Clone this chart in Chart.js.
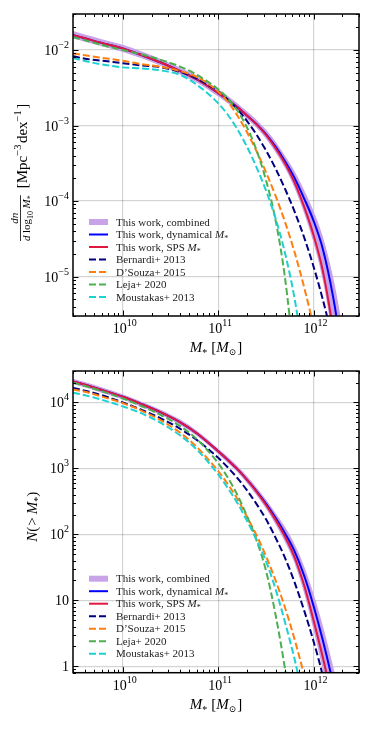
<!DOCTYPE html>
<html>
<head>
<meta charset="utf-8">
<script src="https://cdn.jsdelivr.net/npm/chart.js"></script>
<style>
  html, body { margin: 0; padding: 0; background: #fff; }
  #wrap { position: relative; width: 366px; height: 731px; }
  canvas { position: absolute; left: 0; }
</style>
</head>
<body>
<div id="wrap">
  <canvas id="massFunction" width="366" height="362" style="top:0px"></canvas>
  <canvas id="cumulative" width="366" height="369" style="top:362px"></canvas>
</div>
<script>
// stellar mass grid (M_sun)
const masses = [3e9, 4e9, 6e9, 1e10, 1.6e10, 2.5e10, 4e10, 6e10, 1e11, 1.25e11, 1.6e11, 2e11,
  2.5e11, 3.2e11, 4e11, 5e11, 6.3e11, 8e11, 1e12, 1.25e12, 1.6e12, 2e12, 2.5e12];

const seriesLabels = ['This work, combined', 'This work, dynamical M*', 'This work, SPS M*',
  'Bernardi+ 2013', 'D\u2019Souza+ 2015', 'Leja+ 2020', 'Moustakas+ 2013'];

// top panel: dn / dlog10 M*  [Mpc^-3 dex^-1]
const phiBandHi = [1.78e-2, 1.6e-2, 1.39e-2, 1.17e-2, 9.5e-3, 7.6e-3, 5.85e-3, 4.55e-3, 3.0e-3, 2.48e-3, 1.96e-3,
  1.54e-3, 1.2e-3, 8.7e-4, 6.1e-4, 4.0e-4, 2.5e-4, 1.38e-4, 7.4e-5, 3.4e-5, 1.0e-5, 2.2e-6, 3e-7];
const phiBandLo = [1.42e-2, 1.29e-2, 1.12e-2, 9.4e-3, 7.7e-3, 6.2e-3, 4.75e-3, 3.68e-3, 2.42e-3, 1.99e-3, 1.56e-3,
  1.22e-3, 9.4e-4, 6.6e-4, 4.4e-4, 2.75e-4, 1.5e-4, 6.8e-5, 2.8e-5, 9e-6, 1.4e-6, 1.6e-7, 1e-8];
const phiDynamical = [1.58e-2, 1.43e-2, 1.24e-2, 1.05e-2, 8.5e-3, 6.84e-3, 5.25e-3, 4.07e-3, 2.69e-3, 2.21e-3, 1.74e-3,
  1.36e-3, 1.06e-3, 7.6e-4, 5.25e-4, 3.39e-4, 2.04e-4, 1.07e-4, 5.5e-5, 2.34e-5, 5.5e-6, 9.1e-7, 1e-7];
const phiSps = [1.58e-2, 1.43e-2, 1.24e-2, 1.05e-2, 8.5e-3, 6.84e-3, 5.25e-3, 4.07e-3, 2.69e-3, 2.21e-3, 1.74e-3,
  1.36e-3, 1.05e-3, 7.4e-4, 5.0e-4, 3.16e-4, 1.78e-4, 8.3e-5, 3.55e-5, 1.2e-5, 2.0e-6, 2.5e-7];
const phiBernardi = [8.3e-3, 7.67e-3, 7.24e-3, 6.68e-3, 6.24e-3, 5.9e-3, 5.13e-3, 4.17e-3, 2.84e-3, 2.24e-3, 1.63e-3,
  1.15e-3, 7.7e-4, 4.59e-4, 2.69e-4, 1.47e-4, 7.36e-5, 3.26e-5, 1.36e-5, 4.99e-6, 1.39e-6, 3.6e-7];
const phiDSouza = [9.0e-3, 8.5e-3, 7.9e-3, 7.2e-3, 6.5e-3, 6.0e-3, 5.25e-3, 4.37e-3, 2.82e-3, 2.09e-3, 1.34e-3,
  8.2e-4, 4.69e-4, 2.35e-4, 1.17e-4, 5.37e-5, 2.14e-5, 7.1e-6, 2.19e-6, 5.75e-7];
const phiLeja = [1.48e-2, 1.35e-2, 1.17e-2, 1.0e-2, 8.7e-3, 7.4e-3, 6.03e-3, 4.68e-3, 3.02e-3, 2.31e-3, 1.56e-3,
  9.5e-4, 4.88e-4, 1.82e-4, 5.57e-5, 1.0e-5, 7.9e-7];
const phiMoustakas = [7.85e-3, 7.16e-3, 6.46e-3, 5.89e-3, 5.69e-3, 5.37e-3, 4.68e-3, 3.45e-3, 1.97e-3, 1.41e-3, 8.8e-4,
  5.27e-4, 2.88e-4, 1.34e-4, 5.87e-5, 2.1e-5, 5.28e-6, 7.8e-7, 1e-7];

// bottom panel: N(> M*)
const nBandHi = [2.29e4, 2.04e4, 1.7e4, 1.33e4, 1.02e4, 7.76e3, 5.5e3, 3.72e3, 2.0e3, 1.51e3, 1.08e3,
  767, 525, 331, 209, 132, 72.4, 32.4, 12.6, 4.17, 1.02, 0.251];
const nBandLo = [1.91e4, 1.7e4, 1.41e4, 1.11e4, 8.5e3, 6.46e3, 4.57e3, 3.09e3, 1.66e3, 1.23e3, 871,
  603, 398, 240, 141, 77.6, 37.2, 12.6, 3.55, 0.89, 0.158, 0.05];
const nDynamical = [2.09e4, 1.86e4, 1.55e4, 1.22e4, 9.33e3, 7.08e3, 5.01e3, 3.39e3, 1.82e3, 1.36e3, 966,
  676, 462, 288, 178, 105, 56.2, 23.4, 8.3, 2.51, 0.562, 0.126];
const nSps = [2.09e4, 1.86e4, 1.55e4, 1.22e4, 9.33e3, 7.08e3, 5.01e3, 3.39e3, 1.82e3, 1.36e3, 966,
  676, 452, 275, 166, 93.3, 45.7, 16.6, 5.01, 1.38, 0.282];
const nBernardi = [1.66e4, 1.51e4, 1.29e4, 1.0e4, 7.67e3, 5.75e3, 3.98e3, 2.69e3, 1.45e3, 1.05e3, 708,
  468, 295, 166, 89.1, 44.7, 19.1, 6.92, 2.4, 0.708, 0.1];
const nDSouza = [1.58e4, 1.45e4, 1.23e4, 9.77e3, 7.41e3, 5.37e3, 3.47e3, 2.09e3, 912, 589, 339,
  186, 100, 45.7, 20, 7.94, 2.63, 0.708, 0.158];
const nLeja = [2.0e4, 1.78e4, 1.48e4, 1.15e4, 8.7e3, 6.46e3, 4.37e3, 2.75e3, 1.2e3, 741, 389,
  191, 85.1, 26.9, 6.03, 0.955, 0.1];
const nMoustakas = [1.41e4, 1.29e4, 1.1e4, 8.71e3, 6.76e3, 4.9e3, 3.16e3, 1.91e3, 813, 513, 295,
  162, 85.1, 38, 14.8, 4.79, 1.32, 0.282];

const colors = ['#c9a3e8', '#0000ff', '#e0173f', '#000080', '#ff7f0e', '#4caf50', '#1ed0d0'];
const SERIF = "'Liberation Serif', 'DejaVu Serif', serif";
const MINUS = '\u2212';

function font(size, italic) {
  return (italic ? 'italic ' : '') + size + 'px ' + SERIF;
}

// a run is [text, size, italic, dy, gapAfter]
function runsWidth(ctx, runs) {
  let w = 0;
  for (const r of runs) {
    ctx.font = font(r[1], r[2]);
    w += ctx.measureText(r[0]).width + (r[4] || 0);
  }
  return w;
}

function drawRuns(ctx, runs, x, y, align) {
  const w = runsWidth(ctx, runs);
  let cx = align === 'center' ? x - w / 2 : align === 'right' ? x - w : x;
  ctx.textAlign = 'left';
  ctx.textBaseline = 'alphabetic';
  for (const r of runs) {
    ctx.font = font(r[1], r[2]);
    ctx.fillText(r[0], cx, y + (r[3] || 0));
    cx += ctx.measureText(r[0]).width + (r[4] || 0);
  }
  return w;
}

function powRuns(e, plainSmall) {
  if (plainSmall && e === 0) return [['1', 14]];
  if (plainSmall && e === 1) return [['10', 14]];
  return [['10', 14], [(e < 0 ? MINUS + (-e) : String(e)), 10, false, -7]];
}

// label text with "M*" rendered as math
function labelRuns(text, size) {
  const i = text.indexOf('M*');
  if (i < 0) return [[text, size]];
  return [[text.slice(0, i), size], ['M', size, true], ['*', size * 0.72, false, 3]];
}

function logTicks(scale) {
  const out = [];
  const lo = Math.floor(Math.log10(scale.min)), hi = Math.ceil(Math.log10(scale.max));
  for (let e = lo; e <= hi; e++) {
    for (let k = 1; k < 10; k++) {
      const v = k * Math.pow(10, e);
      if (v >= scale.min * 0.999 && v <= scale.max * 1.001) out.push({ v, e, major: k === 1 });
    }
  }
  return out;
}

function isDecade(v) {
  const l = Math.log10(v);
  return Math.abs(l - Math.round(l)) < 1e-6;
}

const decor = {
  id: 'decor',
  afterDraw(chart, args, opts) {
    const ctx = chart.ctx, a = chart.chartArea;
    const xs = chart.scales.x, ys = chart.scales.y;
    ctx.save();
    ctx.strokeStyle = '#000';
    ctx.fillStyle = '#000';

    // inward ticks on all four sides
    ctx.lineWidth = 1;
    ctx.beginPath();
    for (const t of logTicks(xs)) {
      const px = Math.round(xs.getPixelForValue(t.v)) + 0.5;
      const len = t.major ? 5.5 : 3;
      ctx.moveTo(px, a.bottom); ctx.lineTo(px, a.bottom - len);
      ctx.moveTo(px, a.top); ctx.lineTo(px, a.top + len);
    }
    for (const t of logTicks(ys)) {
      const py = Math.round(ys.getPixelForValue(t.v)) + 0.5;
      const len = t.major ? 5.5 : 3;
      ctx.moveTo(a.left, py); ctx.lineTo(a.left + len, py);
      ctx.moveTo(a.right, py); ctx.lineTo(a.right - len, py);
    }
    ctx.stroke();

    ctx.lineWidth = 1.5;
    ctx.strokeRect(a.left, a.top, a.right - a.left, a.bottom - a.top);

    // tick labels
    for (const t of logTicks(xs)) {
      if (t.major) drawRuns(ctx, powRuns(t.e), xs.getPixelForValue(t.v) + 2, a.bottom + 17, 'center');
    }
    for (const t of logTicks(ys)) {
      if (t.major) drawRuns(ctx, powRuns(t.e, opts.plainSmall), a.left - 4, ys.getPixelForValue(t.v) + 5, 'right');
    }

    // x title
    drawRuns(ctx, [['M', 15, true], ['*', 10, false, 4, 4], ['[', 15], ['M', 15, true],
      ['\u2299', 9, false, 3, 1], [']', 15]], (a.left + a.right) / 2, a.bottom + 36, 'center');

    opts.yTitle(ctx, a);

    // legend
    let y = a.bottom - 94;
    seriesLabels.forEach((lab, i) => {
      const x0 = a.left + 16, x1 = a.left + 35;
      if (i === 0) {
        ctx.fillStyle = colors[0];
        ctx.fillRect(x0, y - 3, x1 - x0, 6);
      } else {
        ctx.strokeStyle = colors[i];
        ctx.lineWidth = 2;
        ctx.setLineDash(i >= 3 ? [7, 3] : []);
        ctx.beginPath(); ctx.moveTo(x0, y); ctx.lineTo(x1, y); ctx.stroke();
        ctx.setLineDash([]);
      }
      ctx.fillStyle = '#222';
      drawRuns(ctx, labelRuns(lab, 11), a.left + 43, y + 3.5, 'left');
      y += 12.5;
    });
    ctx.restore();
  }
};

function yTitleDensity(ctx, a) {
  ctx.save();
  ctx.translate(21, (a.top + a.bottom) / 2);
  ctx.rotate(-Math.PI / 2);
  const den = [['d', 11, true, 0, 2.5], ['log', 11], ['10', 8, false, 3, 2.5], ['M', 11, true], ['*', 8, false, 3]];
  const dw = runsWidth(ctx, den);
  const x0 = -76;
  drawRuns(ctx, [['dn', 11, true]], x0 + dw / 2, -3, 'center');
  drawRuns(ctx, den, x0, 8.5, 'left');
  ctx.lineWidth = 0.8;
  ctx.beginPath(); ctx.moveTo(x0, -0.5); ctx.lineTo(x0 + dw, -0.5); ctx.stroke();
  drawRuns(ctx, [['[Mpc', 15], [MINUS + '3', 10.5, false, -6.5, 1.5], ['dex', 15], [MINUS + '1', 10.5, false, -6.5, 1.5], [']', 15]],
    x0 + dw + 7, 6, 'left');
  ctx.restore();
}

function yTitleCumulative(ctx, a) {
  ctx.save();
  ctx.translate(37, (a.top + a.bottom) / 2 - 5);
  ctx.rotate(-Math.PI / 2);
  drawRuns(ctx, [['N', 15, true], ['(', 15, false, 0, 1], ['>', 15, false, 0, 3], ['M', 15, true],
    ['*', 10, false, 4], [')', 15]], 0, 0, 'center');
  ctx.restore();
}

function pts(vals) {
  return vals.map((v, i) => ({ x: masses[i], y: v }));
}

function buildDatasets(bandHi, bandLo, dyn, sps, others) {
  const sets = [
    { label: seriesLabels[0], data: pts(bandHi), fill: '+1', backgroundColor: colors[0],
      borderColor: 'transparent', borderWidth: 0, order: 11 },
    { label: seriesLabels[0] + ' low', data: pts(bandLo), fill: false,
      borderColor: 'transparent', borderWidth: 0, order: 12 },
    { label: seriesLabels[1], data: pts(dyn), borderColor: colors[1], borderWidth: 2, fill: false, order: 9 },
    { label: seriesLabels[2], data: pts(sps), borderColor: colors[2], borderWidth: 2, fill: false, order: 8 }
  ];
  others.forEach((vals, k) => {
    sets.push({ label: seriesLabels[3 + k], data: pts(vals), borderColor: colors[3 + k], borderWidth: 2,
      borderDash: [7, 3], fill: false, order: 4 - k });
  });
  return sets;
}

const gridColor = (c) => (c.tick && isDecade(c.tick.value)) ? 'rgba(0,0,0,0.17)' : 'rgba(0,0,0,0)';

function makePanel(id, datasets, yMin, yMax, padTop, xAxisH, decorOpts) {
  return new Chart(document.getElementById(id), {
    type: 'line',
    data: { datasets },
    options: {
      responsive: false,
      animation: false,
      devicePixelRatio: 1,
      layout: { padding: { left: 0, right: 7, top: padTop, bottom: 0 } },
      elements: { point: { radius: 0 }, line: { cubicInterpolationMode: 'monotone' } },
      plugins: { legend: { display: false }, tooltip: { enabled: false }, decor: decorOpts },
      scales: {
        x: {
          type: 'logarithmic', min: 3e9, max: 3e12,
          ticks: { display: false, autoSkip: false },
          grid: { color: gridColor, lineWidth: 1.2, drawTicks: false },
          border: { display: false },
          afterFit(s) { s.height = xAxisH; }
        },
        y: {
          type: 'logarithmic', min: yMin, max: yMax,
          ticks: { display: false, autoSkip: false },
          grid: { color: gridColor, lineWidth: 1.2, drawTicks: false },
          border: { display: false },
          afterFit(s) { s.width = 73; }
        }
      }
    },
    plugins: [decor]
  });
}

makePanel('massFunction',
  buildDatasets(phiBandHi, phiBandLo, phiDynamical, phiSps, [phiBernardi, phiDSouza, phiLeja, phiMoustakas]),
  3e-6, 3e-2, 14, 46, { yTitle: yTitleDensity, plainSmall: false });

makePanel('cumulative',
  buildDatasets(nBandHi, nBandLo, nDynamical, nSps, [nBernardi, nDSouza, nLeja, nMoustakas]),
  0.8, 3e4, 9, 58.3, { yTitle: yTitleCumulative, plainSmall: true });
</script>
</body>
</html>
